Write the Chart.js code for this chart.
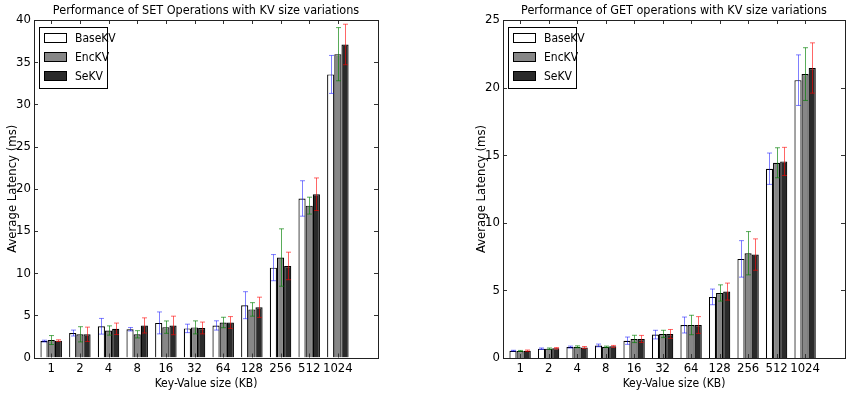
<!DOCTYPE html>
<html><head><meta charset="utf-8">
<script src="https://cdn.jsdelivr.net/npm/chart.js@4"></script>
<style>
html,body{margin:0;padding:0;background:#fff}
body{width:847px;height:394px;overflow:hidden;position:relative;font-family:'Liberation Sans Narrow','DejaVu Sans Condensed','DejaVu Sans',sans-serif}
.wrap{position:absolute;top:0;height:394px}
#w1{left:0;width:423px}
#w2{left:423px;width:424px}
.legend{position:absolute;box-sizing:border-box;width:69px;height:62px;border:1px solid #000;background:#fff;z-index:2}
.sw{position:absolute;left:4px;width:23px;height:10px;box-sizing:border-box;border:1px solid #000}
.lt{position:absolute;left:35px;font-size:12px;line-height:14px;color:#000;white-space:nowrap}
</style></head>
<body>
<div class="wrap" id="w1"><canvas id="c1" width="423" height="394"></canvas></div>
<div class="wrap" id="w2"><canvas id="c2" width="424" height="394"></canvas></div>
<div class="legend" id="lg1" style="left:39px;top:27px"></div>
<div class="legend" id="lg2" style="left:508px;top:27px"></div>
<script>
const categories = ['1','2','4','8','16','32','64','128','256','512','1024'];
const seriesNames = ['BaseKV','EncKV','SeKV'];
const barColors = ['#ffffff','#878787','#2b2b2b'];
const errColors = ['rgba(0,0,255,0.5)','rgba(0,128,0,0.65)','rgba(255,0,0,0.6)'];

const setBase    = [1.95, 2.9, 3.7, 3.35, 4.1, 3.45, 3.8, 6.2, 10.65, 18.85, 33.55];
const setBaseErr = [0.1, 0.35, 0.93, 0.2, 1.3, 0.5, 0.55, 1.6, 1.55, 2.1, 2.25];
const setEnc     = [2.07, 2.75, 3.2, 2.75, 3.6, 3.57, 4.15, 5.7, 11.85, 18.0, 35.95];
const setEncErr  = [0.53, 0.9, 0.55, 0.43, 0.73, 0.77, 0.62, 0.8, 3.4, 1.0, 3.15];
const setSe      = [2.0, 2.75, 3.4, 3.8, 3.8, 3.5, 4.15, 5.95, 10.85, 19.35, 37.1];
const setSeErr   = [0.1, 0.85, 0.68, 0.9, 1.1, 0.7, 0.7, 1.2, 1.63, 1.93, 2.4];

const getBase    = [0.54, 0.69, 0.81, 0.93, 1.28, 1.73, 2.44, 4.52, 7.33, 14.0, 20.55];
const getBaseErr = [0.03, 0.05, 0.07, 0.1, 0.27, 0.32, 0.59, 0.58, 1.35, 1.16, 1.87];
const getEnc     = [0.52, 0.69, 0.83, 0.83, 1.41, 1.78, 2.44, 4.81, 7.75, 14.44, 21.0];
const getEncErr  = [0.04, 0.05, 0.07, 0.05, 0.27, 0.27, 0.72, 0.6, 1.6, 1.11, 1.95];
const getSe      = [0.54, 0.72, 0.78, 0.86, 1.41, 1.78, 2.44, 4.91, 7.65, 14.54, 21.45];
const getSeErr   = [0.05, 0.05, 0.07, 0.07, 0.26, 0.33, 0.62, 0.63, 1.16, 1.04, 1.86];

const setTitle = 'Performance of SET Operations with KV size variations';
const getTitle = 'Performance of GET operations with KV size variations';
const xTitle = 'Key-Value size (KB)';
const yTitle = 'Average Latency (ms)';

Chart.defaults.font.family = "'Liberation Sans Narrow','DejaVu Sans Condensed','DejaVu Sans',sans-serif";
Chart.defaults.color = '#000';

const errorBarPlugin = {
  id: 'errorBars',
  afterDatasetsDraw(chart) {
    const ctx = chart.ctx, ys = chart.scales.y;
    ctx.save();
    chart.data.datasets.forEach((ds, i) => {
      const meta = chart.getDatasetMeta(i);
      meta.data.forEach((bar, j) => {
        const v = ds.data[j].y, e = ds.errorBars[j];
        const y1 = ys.getPixelForValue(v + e), y2 = ys.getPixelForValue(v - e);
        const x = Math.round(bar.x) + 0.5;
        ctx.strokeStyle = ds.errorColor;
        ctx.lineWidth = 1;
        ctx.beginPath();
        ctx.moveTo(x, y1); ctx.lineTo(x, y2);
        ctx.moveTo(x - 2.5, y1); ctx.lineTo(x + 2.5, y1);
        ctx.moveTo(x - 2.5, y2); ctx.lineTo(x + 2.5, y2);
        ctx.stroke();
      });
    });
    ctx.restore();
  }
};

const framePlugin = {
  id: 'mplFrame',
  afterDraw(chart) {
    const ctx = chart.ctx, a = chart.chartArea;
    const xs = chart.scales.x, ys = chart.scales.y;
    ctx.save();
    ctx.strokeStyle = '#333';
    ctx.lineWidth = 1;
    ctx.beginPath();
    ys.ticks.forEach(t => {
      const y = Math.round(ys.getPixelForValue(t.value)) + 0.5;
      ctx.moveTo(a.left, y); ctx.lineTo(a.left + 4, y);
      ctx.moveTo(a.right, y); ctx.lineTo(a.right - 4, y);
    });
    xs.ticks.forEach(t => {
      const x = Math.round(xs.getPixelForValue(t.value)) + 0.5;
      ctx.moveTo(x, a.top); ctx.lineTo(x, a.top + 4);
      ctx.moveTo(x, a.bottom); ctx.lineTo(x, a.bottom - 4);
    });
    ctx.stroke();
    ctx.strokeStyle = '#222';
    ctx.strokeRect(Math.round(a.left) + 0.5, Math.round(a.top) + 0.5, Math.round(a.right - a.left), Math.round(a.bottom - a.top));
    ctx.restore();
  }
};

function makeDatasets(vals, errs) {
  return vals.map((arr, k) => ({
    label: seriesNames[k],
    data: arr.map((v, i) => ({x: i, y: v})),
    errorBars: errs[k],
    errorColor: errColors[k],
    backgroundColor: barColors[k],
    borderColor: '#000',
    borderWidth: 1.2,
    borderSkipped: 'bottom',
    categoryPercentage: 0.75,
    barPercentage: 1.0
  }));
}

function makeChart(id, title, vals, errs, ymax, padLeft, padRight, xHeight) {
  return new Chart(document.getElementById(id), {
    type: 'bar',
    data: { datasets: makeDatasets(vals, errs) },
    options: {
      responsive: false,
      animation: false,
      layout: { padding: { left: padLeft, right: padRight, top: 0, bottom: 0 } },
      plugins: {
        legend: { display: false },
        tooltip: { enabled: false },
        title: { display: true, text: title, fullSize: false, color: '#000',
                 font: { size: 12.5, weight: 'normal' }, padding: { top: 3, bottom: 2 } }
      },
      scales: {
        x: {
          type: 'linear', min: -0.6, max: 11.4, offset: false,
          grid: { display: false, drawTicks: false }, border: { display: false },
          afterBuildTicks: s => { s.ticks = categories.map((c, i) => ({ value: i })); },
          ticks: { padding: 3, font: { size: 13 }, color: '#000', maxRotation: 0, autoSkip: false,
                   callback: v => categories[v] },
          title: { display: true, text: xTitle, font: { size: 12 }, color: '#000', padding: { top: 0, bottom: 3 } },
          afterFit: s => { s.height = xHeight; }
        },
        y: {
          min: 0, max: ymax,
          grid: { display: false, drawTicks: false }, border: { display: false },
          ticks: { stepSize: 5, padding: 3, font: { size: 13 }, color: '#000' },
          title: { display: true, text: yTitle, font: { size: 13 }, color: '#000', padding: { top: 5, bottom: 0 } },
          afterFit: s => { s.width = 34; }
        }
      }
    },
    plugins: [errorBarPlugin, framePlugin]
  });
}

makeChart('c1', setTitle, [setBase, setEnc, setSe], [setBaseErr, setEncErr, setSeErr], 40, 0, 45, 36.5);
makeChart('c2', getTitle, [getBase, getEnc, getSe], [getBaseErr, getEncErr, getSeErr], 25, 46, 2, 36);

function buildLegend(id) {
  const box = document.getElementById(id);
  seriesNames.forEach((name, k) => {
    const sw = document.createElement('div');
    sw.className = 'sw';
    sw.style.top = (5 + 19 * k) + 'px';
    sw.style.background = barColors[k];
    box.appendChild(sw);
    const t = document.createElement('div');
    t.className = 'lt';
    t.style.top = (3 + 19 * k) + 'px';
    t.textContent = name;
    box.appendChild(t);
  });
}
buildLegend('lg1');
buildLegend('lg2');
</script>
</body></html>
